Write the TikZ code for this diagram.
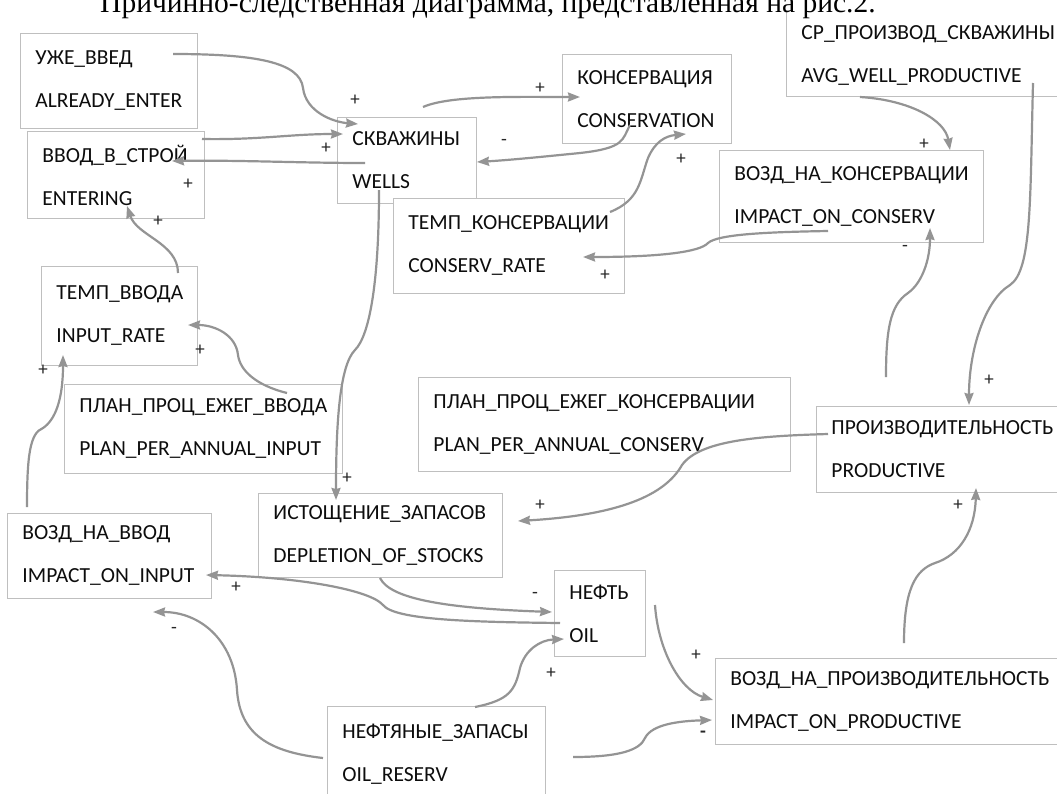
\documentclass[tikz,border=0pt]{standalone}
\usepackage{fontspec}
\setmainfont{Carlito}
\newfontfamily\titlefamily{Liberation Serif}
\usetikzlibrary{arrows.meta}
\hyphenpenalty=10000
\exhyphenpenalty=10000
\tikzset{
  var/.style={rectangle, draw=black!25, fill=white, line width=0.9pt,
    anchor=north west, align=left, inner xsep=15pt, inner ysep=0pt,
    text=black!95, font=\fontsize{21.5}{43}\selectfont},
  link/.style={draw=black!42, line width=2.2pt,
    -{Stealth[length=12pt, width=9pt, inset=1pt]}},
  sign/.style={font=\fontsize{19}{19}\selectfont, text=black!85, inner sep=0pt},
}

\begin{document}
\begin{tikzpicture}[x=1pt, y=-1pt]

  \useasboundingbox (0,0) rectangle (1057,793);
  \clip (0,0) rectangle (1057,793);
  \fill[white] (0,0) rectangle (1057,793);

  % Variables
  \node[var, text width=147pt, minimum height=95pt] (already) at (20,33) {УЖЕ\_ВВЕД\\ALREADY\_ENTER};
  \node[var, text width=147pt, minimum height=87pt] (entering) at (27,131) {ВВОД\_В\_СТРОЙ\\ENTERING};
  \node[var, text width=109pt, minimum height=86pt] (wells) at (337,117) {СКВАЖИНЫ\\WELLS};
  \node[var, text width=139pt, minimum height=89pt] (conservation) at (562,54) {КОНСЕРВАЦИЯ\\CONSERVATION};
  \node[var, text width=201pt, minimum height=95pt] (conservrate) at (393,198) {ТЕМП\_КОНСЕРВАЦИИ\\CONSERV\_RATE};
  \node[var, anchor=south west, text width=270pt, inner ysep=11pt] (avgwell) at (786,97)
    {\rule{0pt}{80pt}СР\_ПРОИЗВОД\_СКВАЖИНЫ\\AVG\_WELL\_PRODUCTIVE};
  \node[var, text width=234pt, minimum height=92pt] (impactconserv) at (719,150) {ВОЗД\_НА\_КОНСЕРВАЦИИ\\IMPACT\_ON\_CONSERV};
  \node[var, text width=126pt, minimum height=99pt] (inputrate) at (41,266) {ТЕМП\_ВВОДА\\INPUT\_RATE};
  \node[var, text width=248pt, minimum height=89pt] (planinput) at (64,384) {ПЛАН\_ПРОЦ\_ЕЖЕГ\_ВВОДА\\PLAN\_PER\_ANNUAL\_INPUT};
  \node[var, text width=342pt, minimum height=94pt] (planconserv) at (418,377) {ПЛАН\_ПРОЦ\_ЕЖЕГ\_КОНСЕРВАЦИИ\\PLAN\_PER\_ANNUAL\_CONSERV};
  \node[var, text width=230pt, minimum height=86pt] (productive) at (816,406) {ПРОИЗВОДИТЕЛЬНОСТЬ\\PRODUCTIVE};
  \node[var, text width=214pt, minimum height=84pt] (depletion) at (258,493) {ИСТОЩЕНИЕ\_ЗАПАСОВ\\DEPLETION\_OF\_STOCKS};
  \node[var, text width=174pt, minimum height=85pt] (impactinput) at (7,513) {ВОЗД\_НА\_ВВОД\\IMPACT\_ON\_INPUT};
  \node[var, text width=61pt, minimum height=86pt] (oil) at (554,570) {НЕФТЬ\\OIL};
  \node[var, text width=188pt, minimum height=95pt] (oilreserv) at (327,706) {НЕФТЯНЫЕ\_ЗАПАСЫ\\OIL\_RESERV};
  \node[var, text width=330pt, minimum height=86pt] (impactprod) at (715,658) {ВОЗД\_НА\_ПРОИЗВОДИТЕЛЬНОСТЬ\\IMPACT\_ON\_PRODUCTIVE};

  % Title (cut at the top)
  \node[anchor=base west, fill=white, inner sep=0pt, text depth=0pt,
    font=\titlefamily\fontsize{29.5}{31}\selectfont] (title) at (100,12)
    {Причинно-следственная диаграмма, представленная на рис.2.};

  % Links
  \draw[link] ([shift={(153,21)}]already.north west) .. controls (255,54) and (300,62) .. (303,88)
    .. controls (306,112) and (333,122) .. ([shift={(21,7)}]wells.north west)
    node[sign] (sa) at (355,100) {+};
  \draw[link] ([shift={(175,8)}]entering.north west) .. controls (260,140) and (290,134) .. ([shift={(6,17)}]wells.north west)
    node[sign] (sb) at (326,148) {+};
  \draw[link] ([shift={(28,46)}]wells.north west) .. controls (300,163) and (240,160) .. ([shift={(145,30)}]entering.north west)
    node[sign] (sc) at (188,184) {+};
  \draw[link] ([shift={(137,7)}]inputrate.north west) .. controls (178,243) and (137,236) .. ([shift={(100,75)}]entering.north west)
    node[sign] (sd) at (158,221) {+};
  \draw[link] ([shift={(223,9)}]planinput.north west) .. controls (255,385) and (240,370) .. (238,355)
    .. controls (236,335) and (215,325) .. ([shift={(147,59)}]inputrate.north west)
    node[sign] (se) at (200,350) {+};
  \draw[link] ([shift={(20,-6)}]impactinput.north west) .. controls (27,455) and (30,433) .. (43,428)
    .. controls (55,420) and (63,400) .. ([shift={(22,89)}]inputrate.north west)
    node[sign] (sf) at (43,370) {+};
  \draw[link] ([shift={(42,73)}]wells.north west) .. controls (379,280) and (370,335) .. (355,350)
    .. controls (340,365) and (336,420) .. ([shift={(78,7)}]depletion.north west)
    node[sign] (sg) at (347,478) {+};
  \draw[link] ([shift={(86,-10)}]wells.north west) .. controls (450,95) and (520,97) .. ([shift={(18,43)}]conservation.north west)
    node[sign] (sh) at (540,88) {+};
  \draw[link] ([shift={(68,71)}]conservation.north west) .. controls (622,140) and (625,148) .. (580,153)
    .. controls (540,157) and (510,160) .. ([shift={(140,45)}]wells.north west)
    node[sign] (si) at (504,142) {-};
  \draw[link] ([shift={(217,14)}]conservrate.north west) .. controls (640,200) and (640,180) .. (648,158)
    .. controls (655,142) and (665,136) .. ([shift={(124,80)}]conservation.north west)
    node[sign] (sj) at (681,159) {+};
  \draw[link] ([shift={(109,81)}]impactconserv.north west) .. controls (770,232) and (718,234) .. (708,243)
    .. controls (700,252) and (660,257) .. ([shift={(190,59)}]conservrate.north west)
    node[sign] (sk) at (605,275) {+};
  \draw[link] ([shift={(74,0)}]avgwell.south west) .. controls (910,100) and (945,120) .. ([shift={(231,0)}]impactconserv.north west)
    node[sign] (sl) at (924,144) {+};
  \draw[link] ([shift={(247,-14)}]avgwell.south west) .. controls (1030,200) and (1032,270) .. (1010,285)
    .. controls (985,300) and (969,350) .. ([shift={(153,-1)}]productive.north west)
    node[sign] (sm) at (989,380) {+};
  \draw[link] ([shift={(70,-29)}]productive.north west) .. controls (886,330) and (890,305) .. (908,293)
    .. controls (922,283) and (930,260) .. ([shift={(211,78)}]impactconserv.north west)
    node[sign] (sn) at (905,248) {-};
  \draw[link] ([shift={(12,28)}]productive.north west) .. controls (760,436) and (700,440) .. (682,465)
    .. controls (665,495) and (620,515) .. ([shift={(260,28)}]depletion.north west)
    node[sign] (so) at (540,505) {+};
  \draw[link] ([shift={(122,85)}]depletion.north west) .. controls (390,598) and (440,608) .. ([shift={(-2,42)}]oil.north west)
    node[sign] (sp) at (535,595) {-};
  \draw[link] ([shift={(6,53)}]oil.north west) .. controls (470,622) and (395,620) .. (383,605)
    .. controls (370,590) and (300,577) .. ([shift={(199,62)}]impactinput.north west)
    node[sign] (sq) at (236,587) {+};
  \draw[link] ([shift={(-4,52)}]oilreserv.north west) .. controls (270,752) and (240,735) .. (237,690)
    .. controls (234,640) and (200,612) .. ([shift={(146,99)}]impactinput.north west)
    node[sign] (sr) at (174,630) {-};
  \draw[link] ([shift={(148,1)}]oilreserv.north west) .. controls (510,700) and (515,690) .. (520,668)
    .. controls (525,650) and (540,640) .. ([shift={(10,69)}]oil.north west)
    node[sign] (ss) at (551,673) {+};
  \draw[link] ([shift={(101,35)}]oil.north west) .. controls (658,650) and (680,690) .. ([shift={(-2,42)}]impactprod.north west)
    node[sign] (st) at (696,655) {+};
  \draw[link] ([shift={(246,51)}]oilreserv.north west) .. controls (620,757) and (640,750) .. (645,738)
    .. controls (652,724) and (680,721) .. ([shift={(-3,62)}]impactprod.north west)
    node[sign] (su) at (703,734) {\textbf{-}};
  \draw[link] ([shift={(189,-15)}]impactprod.north west) .. controls (904,590) and (915,570) .. (935,563)
    .. controls (960,555) and (975,530) .. ([shift={(160,82)}]productive.north west)
    node[sign] (sv) at (958,505) {+};

\end{tikzpicture}
\end{document}
